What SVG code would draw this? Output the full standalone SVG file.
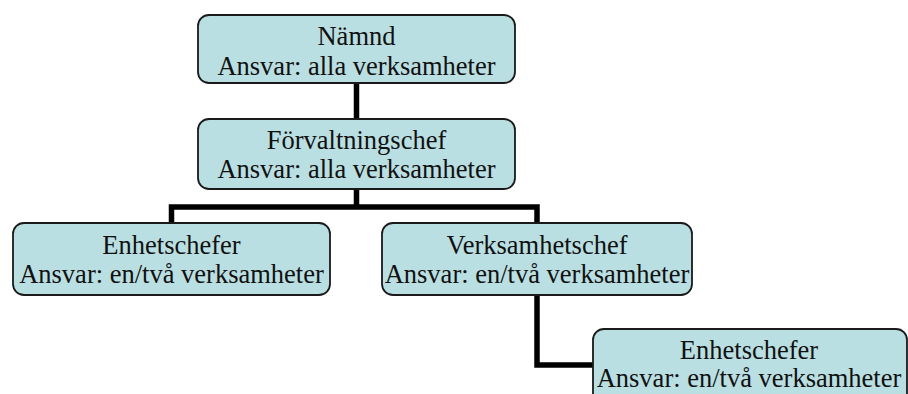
<svg xmlns="http://www.w3.org/2000/svg" width="908" height="394" viewBox="0 0 908 394">
<style>
.box{fill:#BADFE2;stroke:#1a1a1a;stroke-width:1.8}
.lbl{font-family:"Liberation Serif","Times New Roman",serif;font-size:26.5px;fill:#111;text-anchor:middle}
.con{fill:none;stroke:#000;stroke-width:5.5;stroke-linejoin:miter}
</style>
<rect width="908" height="394" fill="#fff"/>
<g id="connectors">
<path class="con" d="M356.5 83 V119"/>
<path class="con" d="M356.5 189 V207 M171.5 223 V207 H537 V223"/>
<path class="con" d="M537 295 V365 H593"/>
</g>
<g id="namnd" font-family="Liberation Serif">
<rect class="box" x="198" y="15" width="317" height="68" rx="11"/>
<text class="lbl" x="356.5" y="45">Nämnd</text>
<text class="lbl" x="356.5" y="75">Ansvar: alla verksamheter</text>
</g>
<g id="forvaltningschef" font-family="Liberation Serif">
<rect class="box" x="198" y="119" width="317" height="70" rx="11"/>
<text class="lbl" x="356.5" y="149">Förvaltningschef</text>
<text class="lbl" x="356.5" y="178">Ansvar: alla verksamheter</text>
</g>
<g id="enhetschefer1" font-family="Liberation Serif">
<rect class="box" x="13" y="223" width="317" height="72" rx="11"/>
<text class="lbl" x="171.5" y="254">Enhetschefer</text>
<text class="lbl" x="171.5" y="283">Ansvar: en/två verksamheter</text>
</g>
<g id="verksamhetschef" font-family="Liberation Serif">
<rect class="box" x="382" y="223" width="310" height="72" rx="11"/>
<text class="lbl" x="537" y="254">Verksamhetschef</text>
<text class="lbl" x="537" y="283">Ansvar: en/två verksamheter</text>
</g>
<g id="enhetschefer2" font-family="Liberation Serif">
<rect class="box" x="593" y="329" width="314" height="80" rx="11"/>
<text class="lbl" x="749" y="359">Enhetschefer</text>
<text class="lbl" x="749" y="387">Ansvar: en/två verksamheter</text>
</g>
</svg>
